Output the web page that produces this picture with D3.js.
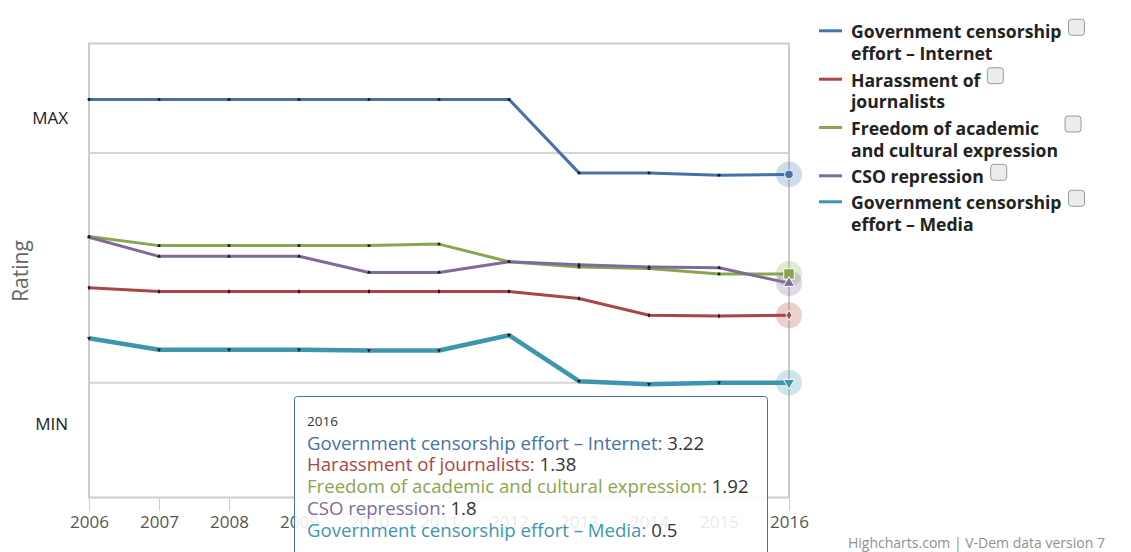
<!DOCTYPE html>
<html>
<head>
<meta charset="utf-8">
<script src="https://cdn.jsdelivr.net/npm/d3@7"></script>
<style>
  body { margin: 0; background: #fff; }
  svg { font-family: "Open Sans", "Noto Sans", sans-serif; }
</style>
</head>
<body>
<svg id="chart" width="1131" height="552"></svg>
<script>
var years = [2006, 2007, 2008, 2009, 2010, 2011, 2012, 2013, 2014, 2015, 2016];
var internet   = [4.2, 4.2, 4.2, 4.2, 4.2, 4.2, 4.2, 3.24, 3.24, 3.21, 3.22];
var harassment = [1.74, 1.69, 1.69, 1.69, 1.69, 1.69, 1.69, 1.6, 1.38, 1.37, 1.38];
var freedom    = [2.41, 2.29, 2.29, 2.29, 2.29, 2.31, 2.08, 2.01, 1.99, 1.92, 1.92];
var cso        = [2.4, 2.15, 2.15, 2.15, 1.94, 1.94, 2.08, 2.04, 2.01, 2.0, 1.8];
var media      = [1.08, 0.93, 0.93, 0.93, 0.92, 0.92, 1.12, 0.52, 0.48, 0.5, 0.5];

var seriesNames = ["Government censorship effort – Internet", "Harassment of journalists",
  "Freedom of academic and cultural expression", "CSO repression", "Government censorship effort – Media"];
var legendLines = [["Government censorship", "effort – Internet"], ["Harassment of", "journalists"],
  ["Freedom of academic", "and cultural expression"], ["CSO repression"], ["Government censorship", "effort – Media"]];
var colors = ["#4572A7", "#AA4643", "#89A54E", "#80699B", "#3D96AE"];
var symbols = ["circle", "diamond", "square", "triangle", "triangle-down"];
var yLabels = [{v: 4, t: "MAX"}, {v: 0, t: "MIN"}];
var gridValues = [0.5, 3.5];

var allData = [internet, harassment, freedom, cso, media];

var svg = d3.select("#chart");
var plotLeft = 89, plotRight = 789, plotTop = 43.5, plotBottom = 497.5;

var x = d3.scaleLinear().domain([2006, 2016]).range([plotLeft, plotRight]);
var y = d3.scaleLinear().domain([-1, 4.93]).range([plotBottom, plotTop]);

// grid lines
svg.append("g").selectAll("line").data(gridValues).join("line")
  .attr("x1", plotLeft).attr("x2", plotRight)
  .attr("y1", d => y(d)).attr("y2", d => y(d))
  .attr("stroke", "#d4d4d4").attr("stroke-width", 2);

// frame
svg.append("rect").attr("x", plotLeft).attr("y", plotTop)
  .attr("width", plotRight - plotLeft).attr("height", plotBottom - plotTop)
  .attr("fill", "none").attr("stroke", "#cccccc").attr("stroke-width", 2);

// x axis
var xAxis = svg.append("g").attr("transform", "translate(0," + (plotBottom + 1) + ")")
  .call(d3.axisBottom(x).tickValues(years).tickFormat(d3.format("d")).tickSize(12).tickPadding(5));
xAxis.select(".domain").remove();
xAxis.selectAll(".tick line").attr("stroke", "#c0d0e0");
xAxis.selectAll("text").attr("fill", "#555").style("font-size", "17px").style("font-family", "Open Sans");

// y axis labels
var yAxis = svg.append("g").attr("transform", "translate(" + plotLeft + ",3)")
  .call(d3.axisLeft(y).tickValues(yLabels.map(d => d.v))
    .tickFormat((d, i) => yLabels[i].t).tickSize(0).tickPadding(21));
yAxis.select(".domain").remove();
yAxis.selectAll("text").attr("fill", "#222").style("font-size", "17px").style("font-family", "Open Sans");

svg.append("text").attr("transform", "translate(28,271) rotate(-90)")
  .attr("text-anchor", "middle").attr("fill", "#666").style("font-size", "21px")
  .text("Rating");

// lines
var line = d3.line().x((d, i) => x(years[i])).y(d => y(d));
var symType = {
  "circle": d3.symbolCircle, "diamond": d3.symbolDiamond, "square": d3.symbolSquare,
  "triangle": d3.symbolTriangle, "triangle-down": d3.symbolTriangle
};
allData.forEach(function(vals, k) {
  var g = svg.append("g");
  g.append("path").datum(vals).attr("d", line)
    .attr("fill", "none").attr("stroke", colors[k])
    .attr("stroke-width", k === 4 ? 4.5 : 3).attr("stroke-linejoin", "round");
  // small markers
  g.selectAll("path.m").data(vals.slice(0, -1)).join("path").attr("class", "m")
    .attr("d", d3.symbol().type(symType[symbols[k]]).size(7))
    .attr("transform", (d, i) => "translate(" + x(years[i]) + "," + y(d) + ")" + (symbols[k] === "triangle-down" ? " rotate(180)" : ""))
    .attr("fill", "#1a1a1a");
});

// hover halos and markers at last point
allData.forEach(function(vals, k) {
  var lx = x(years[years.length - 1]), ly = y(vals[vals.length - 1]);
  svg.append("circle").attr("cx", lx).attr("cy", ly).attr("r", 13)
    .attr("fill", colors[k]).attr("fill-opacity", 0.25);
});
allData.forEach(function(vals, k) {
  var lx = x(years[years.length - 1]), ly = y(vals[vals.length - 1]);
  var size = {circle: 60, diamond: 30, square: 110, triangle: 55, "triangle-down": 55}[symbols[k]];
  svg.append("path")
    .attr("d", d3.symbol().type(symType[symbols[k]]).size(size))
    .attr("transform", "translate(" + lx + "," + ly + ")" + (symbols[k] === "triangle-down" ? " rotate(180)" : ""))
    .attr("fill", colors[k]).attr("stroke", "#fff").attr("stroke-width", 1);
});

// legend
var legend = svg.append("g").style("font-weight", "bold").style("font-size", "17.6px");
var baselines = [38.3, 86.7, 135, 183.3, 209.3];
legendLines.forEach(function(lines, k) {
  var b = baselines[k];
  legend.append("line").attr("x1", 819).attr("x2", 842)
    .attr("y1", b - 7.5).attr("y2", b - 7.5)
    .attr("stroke", colors[k]).attr("stroke-width", 3);
  var maxW = 0;
  lines.forEach(function(t, j) {
    var tx = legend.append("text").attr("x", 851).attr("y", b + j * 21.7)
      .attr("fill", "#222").text(t);
    maxW = Math.max(maxW, tx.node().getComputedTextLength());
  });
  legend.append("rect").attr("x", 851 + maxW + 7).attr("y", b - 19)
    .attr("width", 16).attr("height", 16).attr("rx", 3)
    .attr("fill", "#ececec").attr("stroke", "#9a9a9a").attr("stroke-width", 1);
});

// tooltip
var tip = svg.append("g").attr("transform", "translate(294.5,396.5)");
tip.append("rect").attr("width", 473).attr("height", 200).attr("rx", 3)
  .attr("fill", "#ffffff").attr("fill-opacity", 0.88)
  .attr("stroke", "#4572A7").attr("stroke-width", 1);
tip.append("text").attr("x", 12.5).attr("y", 29.5).attr("fill", "#333")
  .style("font-size", "13.5px").text(years[years.length - 1]);
allData.forEach(function(vals, k) {
  var t = tip.append("text").attr("x", 12.5).attr("y", 53 + k * 21.8).style("font-size", "18.6px");
  t.append("tspan").attr("fill", colors[k]).text(seriesNames[k] + ":");
  t.append("tspan").attr("fill", "#333").text(" " + vals[vals.length - 1]);
});

// credits
svg.append("text").attr("x", 848).attr("y", 548).attr("fill", "#909090")
  .style("font-size", "14px").text("Highcharts.com | V-Dem data version 7");
</script>
</body>
</html>
